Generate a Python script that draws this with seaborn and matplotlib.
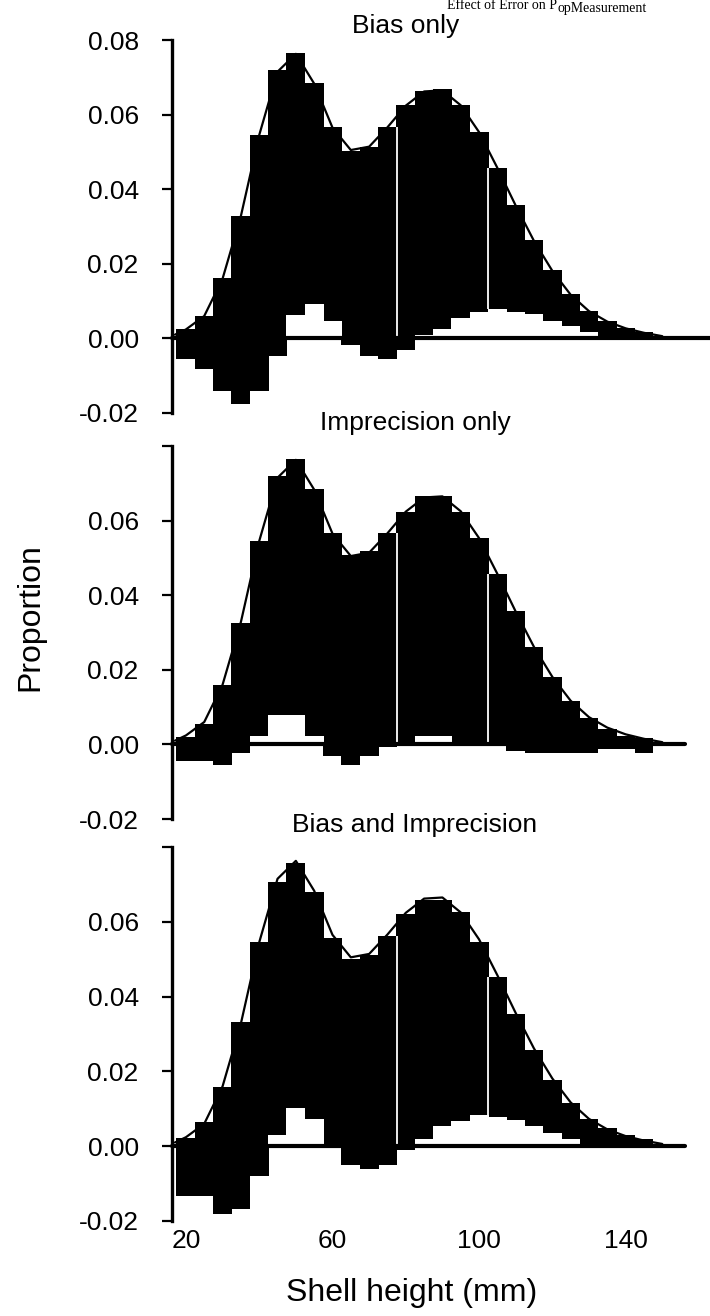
import matplotlib
matplotlib.use("Agg")
import matplotlib.pyplot as plt
import numpy as np
import pandas as pd
import seaborn as sns

# shell height bins (mm), bin width 5
bins = [20, 25, 30, 35, 40, 45, 50, 55, 60, 65, 70, 75, 80, 85, 90, 95,
        100, 105, 110, 115, 120, 125, 130, 135, 140, 145]

# bar top (proportion) and bar bottom (difference) per panel
top_bias = [0.0025, 0.0061, 0.0161, 0.0327, 0.0545, 0.0719, 0.0766, 0.0684, 0.0567, 0.0503,
            0.0512, 0.0567, 0.0625, 0.0663, 0.0668, 0.0625, 0.0554, 0.0458, 0.0357, 0.0264,
            0.0184, 0.0119, 0.0074, 0.0047, 0.0029, 0.0016]
low_bias = [-0.0054, -0.0082, -0.0140, -0.0176, -0.0140, -0.0046, 0.0063, 0.0091, 0.0047, -0.0018,
            -0.0046, -0.0054, -0.0031, 0.0008, 0.0025, 0.0056, 0.0070, 0.0079, 0.0071, 0.0065,
            0.0047, 0.0034, 0.0018, 0.0007, 0.0003, 0.0000]

top_imp = [0.0020, 0.0056, 0.0159, 0.0325, 0.0544, 0.0719, 0.0765, 0.0685, 0.0568, 0.0508,
           0.0519, 0.0568, 0.0624, 0.0665, 0.0665, 0.0624, 0.0554, 0.0458, 0.0357, 0.0260,
           0.0181, 0.0117, 0.0072, 0.0040, 0.0022, 0.0016]
low_imp = [-0.0045, -0.0045, -0.0054, -0.0022, 0.0022, 0.0078, 0.0078, 0.0022, -0.0031, -0.0054,
           -0.0031, -0.0008, 0.0000, 0.0022, 0.0022, 0.0000, 0.0000, -0.0004, -0.0017, -0.0024,
           -0.0024, -0.0024, -0.0024, -0.0013, -0.0013, -0.0024]

top_both = [0.0022, 0.0064, 0.0158, 0.0332, 0.0545, 0.0707, 0.0758, 0.0679, 0.0558, 0.0501,
            0.0512, 0.0561, 0.0622, 0.0659, 0.0659, 0.0627, 0.0545, 0.0453, 0.0354, 0.0258,
            0.0178, 0.0116, 0.0074, 0.0049, 0.0030, 0.0018]
low_both = [-0.0132, -0.0132, -0.0182, -0.0169, -0.0080, 0.0031, 0.0102, 0.0073, 0.0000, -0.0049,
            -0.0062, -0.0049, -0.0009, 0.0018, 0.0055, 0.0068, 0.0084, 0.0077, 0.0071, 0.0053,
            0.0036, 0.0018, -0.0005, -0.0005, -0.0005, -0.0005]

# true length-frequency curve
curve_x = [17, 20, 25, 30, 35, 40, 45, 50, 55, 60, 65, 70, 75, 80, 85, 90, 95,
           100, 105, 110, 115, 120, 125, 130, 135, 140, 145, 150]
curve_y = [0.0010, 0.0024, 0.0060, 0.0160, 0.0328, 0.0545, 0.0715, 0.0763, 0.0683, 0.0565,
           0.0505, 0.0514, 0.0566, 0.0624, 0.0662, 0.0665, 0.0625, 0.0553, 0.0457, 0.0356,
           0.0261, 0.0181, 0.0117, 0.0073, 0.0045, 0.0027, 0.0015, 0.0006]

titles = ["Bias only", "Imprecision only", "Bias and Imprecision"]
panels = [(top_bias, low_bias), (top_imp, low_imp), (top_both, low_both)]
seam_bins = [75, 100]  # bins followed by a thin white seam

ytick_vals = [-0.02, 0.00, 0.02, 0.04, 0.06, 0.08]
xtick_vals = [20, 60, 100, 140]

sns.set_theme(style="white")
plt.rcParams["font.family"] = ["Liberation Sans", "DejaVu Sans"]
plt.rcParams["text.color"] = "black"
plt.rcParams["xtick.color"] = "black"
plt.rcParams["ytick.color"] = "black"

W, H = 710, 1316
fig = plt.figure(figsize=(W / 100, H / 100), dpi=100)

# axes boxes in pixels: (top, bottom)
boxes = [(40, 413), (446, 819), (847, 1221)]
left_px, right_px = 172, 685
title_base = [33, 430, 832]
title_x = [406, 415, 415]

bar_kw = dict(native_scale=True, width=1.03, saturation=1, errorbar=None,
              linewidth=0, edgecolor="none", antialiased=False)

for i, ((tops, lows), (t_px, b_px)) in enumerate(zip(panels, boxes)):
    ax = fig.add_axes([left_px / W, 1 - b_px / H, (right_px - left_px) / W, (b_px - t_px) / H])
    df = pd.DataFrame({"bin": bins, "top": tops, "low": lows})
    df["low_pos"] = df["low"].clip(lower=0)
    df["low_neg"] = df["low"].clip(upper=0)

    sns.barplot(data=df, x="bin", y="top", color="black", ax=ax, zorder=1, **bar_kw)
    sns.barplot(data=df, x="bin", y="low_pos", color="white", ax=ax, zorder=2, **bar_kw)
    sns.barplot(data=df, x="bin", y="low_neg", color="black", ax=ax, zorder=2, **bar_kw)
    sns.lineplot(x=curve_x, y=curve_y, color="black", lw=1.6, ax=ax, zorder=3)

    # thin white seams between some bars
    for b in seam_bins:
        k = bins.index(b)
        lo = max(0, lows[k], lows[k + 1])
        hi = min(tops[k], tops[k + 1])
        ax.vlines(b + 2.5, lo, hi, color="white", lw=1.3, zorder=4)

    xmax = 1.05 if i == 0 else 1.0
    ax.axhline(0, xmin=0, xmax=xmax, color="black", lw=3, zorder=5, clip_on=False)

    ax.set_xlim(16.2, 156.2)
    ax.set_ylim(-0.02, 0.08)
    for s in ["top", "right", "bottom"]:
        ax.spines[s].set_visible(False)
    ax.spines["left"].set_color("black")
    ax.spines["left"].set_linewidth(2.4)
    ax.set_yticks(ytick_vals)
    labels = ["%.2f" % v for v in ytick_vals]
    if i > 0:
        labels[-1] = ""
    ax.set_yticklabels(labels)
    ax.tick_params(axis="y", direction="out", length=7, width=1.6, color="black",
                   labelcolor="black", labelsize=19, pad=17, left=True)
    if i == 2:
        ax.set_xticks(xtick_vals)
        ax.set_xticklabels([str(v) for v in xtick_vals])
        ax.tick_params(axis="x", length=0, labelcolor="black", labelsize=19, pad=6)
    else:
        ax.set_xticks([])
    ax.set_xlabel("")
    ax.set_ylabel("")
    ax.grid(False)

    fig.text(title_x[i] / W, 1 - title_base[i] / H, titles[i], ha="center", va="baseline",
             fontsize=19, color="black")

fig.text(30 / W, 1 - 617 / H, "Proportion", rotation=90, ha="center", va="center",
         fontsize=23, color="black")
fig.text(412 / W, 1 - 1293 / H, "Shell height (mm)", ha="center", va="center",
         fontsize=23, color="black")

# header partly hidden in the reference; kept small near the top edge
serif = ["Liberation Serif", "DejaVu Serif"]
fig.text(557 / W, 1 - 9 / H, "Effect of Error on P", ha="right", va="baseline",
         fontsize=10, family=serif, color="black")
fig.text(557 / W, 1 - 12 / H, "opMeasurement", ha="left", va="baseline",
         fontsize=10, family=serif, color="black")

fig.savefig("out.png", dpi=100)
